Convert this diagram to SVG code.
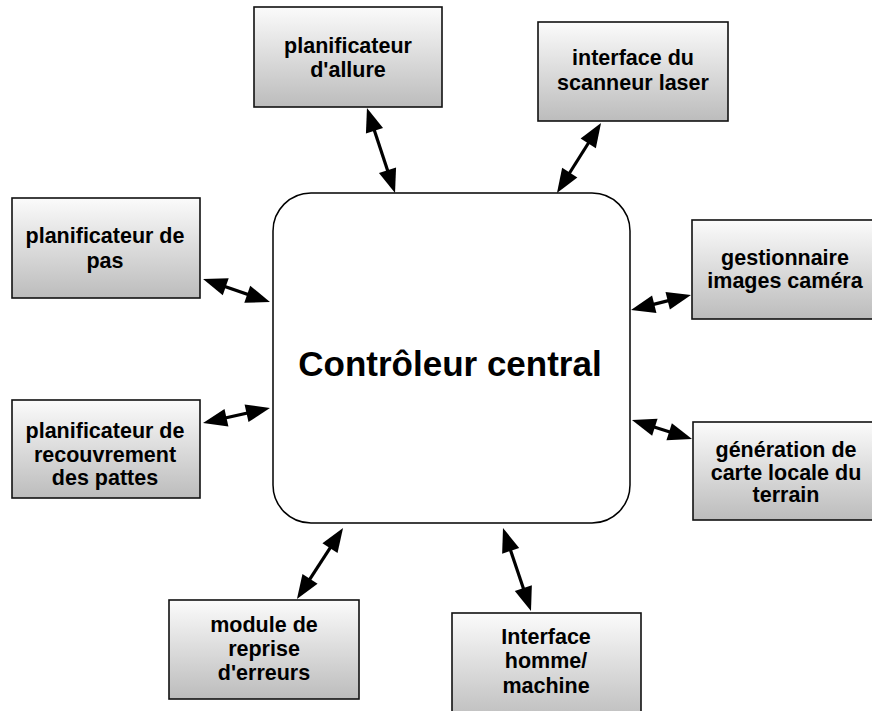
<svg xmlns="http://www.w3.org/2000/svg" width="872" height="711" viewBox="0 0 872 711">
<style>
.box{fill:url(#g);stroke:#111;stroke-width:1.6}
.t{font-family:"Liberation Sans",Arial,Helvetica,sans-serif;font-weight:bold;font-size:21.5px;fill:#000;text-anchor:middle}
.big{font-size:35px}
.c{stroke:#000;stroke-width:3.2;fill:none;marker-start:url(#ah);marker-end:url(#ah)}
</style>
<defs>
<linearGradient id="g" x1="0" y1="0" x2="0" y2="1">
<stop offset="0" stop-color="#fbfbfb"/>
<stop offset="1" stop-color="#bcbcbc"/>
</linearGradient>
<marker id="ah" markerUnits="userSpaceOnUse" markerWidth="24" markerHeight="18" refX="14" refY="9" orient="auto-start-reverse" overflow="visible">
<path d="M0,0 L24,9 L0,18 z" fill="#000"/>
</marker>
</defs>
<rect width="872" height="711" fill="#fff"/>
<g id="central">
<rect x="273" y="193" width="357" height="330" rx="38" ry="38" fill="#fff" stroke="#000" stroke-width="1.5"/>
<text class="t big" x="450" y="376">Contrôleur central</text>
</g>
<g id="n-allure">
<rect class="box" x="254" y="7" width="188" height="100"/>
<text class="t" x="348" y="53">planificateur</text>
<text class="t" x="348" y="77">d'allure</text>
</g>
<g id="n-scanneur">
<rect class="box" x="538" y="22" width="190" height="99"/>
<text class="t" x="633" y="65">interface du</text>
<text class="t" x="633" y="90">scanneur laser</text>
</g>
<g id="n-pas">
<rect class="box" x="12" y="198" width="188" height="100"/>
<text class="t" x="105" y="243">planificateur de</text>
<text class="t" x="105" y="268">pas</text>
</g>
<g id="n-camera">
<rect class="box" x="692" y="220" width="186" height="99"/>
<text class="t" x="785" y="265">gestionnaire</text>
<text class="t" x="785" y="288">images caméra</text>
</g>
<g id="n-recouvrement">
<rect class="box" x="12" y="400" width="188" height="98"/>
<text class="t" x="105" y="438">planificateur de</text>
<text class="t" x="105" y="462">recouvrement</text>
<text class="t" x="105" y="485">des pattes</text>
</g>
<g id="n-carte">
<rect class="box" x="693" y="422" width="187" height="98"/>
<text class="t" x="786" y="457">génération de</text>
<text class="t" x="786" y="480">carte locale du</text>
<text class="t" x="786" y="502">terrain</text>
</g>
<g id="n-erreurs">
<rect class="box" x="169" y="600" width="190" height="99"/>
<text class="t" x="264" y="632">module de</text>
<text class="t" x="264" y="656">reprise</text>
<text class="t" x="264" y="680">d'erreurs</text>
</g>
<g id="n-ihm">
<rect class="box" x="452" y="613" width="189" height="110"/>
<text class="t" x="546" y="644">Interface</text>
<text class="t" x="546" y="668">homme/</text>
<text class="t" x="546" y="693">machine</text>
</g>
<g id="connectors">
<line class="c" x1="370.1" y1="117.5" x2="391.9" y2="183.5"/>
<line class="c" x1="595.7" y1="131.5" x2="562.3" y2="184.5"/>
<line class="c" x1="212.5" y1="282.2" x2="260.5" y2="298.8"/>
<line class="c" x1="640.7" y1="307.6" x2="681.3" y2="297.4"/>
<line class="c" x1="212.8" y1="420.8" x2="260.2" y2="410.2"/>
<line class="c" x1="641.5" y1="423.0" x2="682.5" y2="436.0"/>
<line class="c" x1="337.6" y1="536.4" x2="302.4" y2="590.6"/>
<line class="c" x1="506.2" y1="537.5" x2="527.8" y2="601.5"/>
</g>
</svg>
